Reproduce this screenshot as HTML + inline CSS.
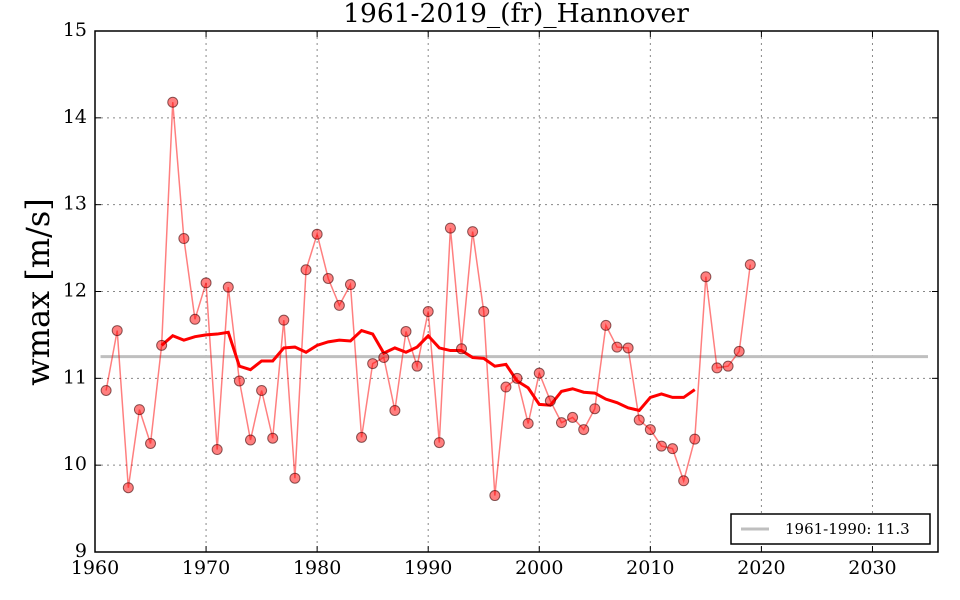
<!DOCTYPE html>
<html><head><meta charset="utf-8"><style>
html,body{margin:0;padding:0;background:#fff;width:960px;height:600px;overflow:hidden}
text{font-family:"DejaVu Serif","Liberation Serif",serif}
</style></head><body>
<svg id="chart" width="960" height="600" xmlns="http://www.w3.org/2000/svg">
<g id="grid"></g>
<g id="ref"></g>
<g id="series"></g>
<g id="axes"></g>
<text x="516" y="22" text-anchor="middle" font-size="26.5">1961-2019_(fr)_Hannover</text>
<text transform="translate(49,292) rotate(-90)" text-anchor="middle" font-size="32">wmax [m/s]</text>
<g>
<rect x="731" y="514" width="199" height="30" fill="#fff" stroke="#000" stroke-width="1.5"/>
<line x1="741" y1="529" x2="769" y2="529" stroke="#bfbfbf" stroke-width="3"/>
<text x="785" y="534" font-size="15">1961-1990: 11.3</text>
</g>
</svg>
<script>
const years=[];for(let y=1961;y<=2019;y++)years.push(y);
const wmax=[10.86,11.55,9.74,10.64,10.25,11.38,14.18,12.61,11.68,12.10,10.18,12.05,10.97,10.29,10.86,10.31,11.67,9.85,12.25,12.66,12.15,11.84,12.08,10.32,11.17,11.24,10.63,11.54,11.14,11.77,10.26,12.73,11.34,12.69,11.77,9.65,10.90,11.00,10.48,11.06,10.74,10.49,10.55,10.41,10.65,11.61,11.36,11.35,10.52,10.41,10.22,10.19,9.82,10.30,12.17,11.12,11.14,11.31,12.31];
const maYears=[];for(let y=1966;y<=2014;y++)maYears.push(y);
const maValues=[11.38,11.49,11.44,11.48,11.50,11.51,11.53,11.14,11.10,11.20,11.20,11.35,11.36,11.30,11.38,11.42,11.44,11.43,11.55,11.51,11.29,11.35,11.30,11.36,11.49,11.35,11.32,11.32,11.24,11.23,11.14,11.16,10.97,10.89,10.70,10.69,10.85,10.88,10.84,10.83,10.76,10.72,10.66,10.63,10.78,10.82,10.78,10.78,10.87];
const refValue=11.25;
const xTicks=[1960,1970,1980,1990,2000,2010,2020,2030];
const yTicks=[9,10,11,12,13,14,15];
const L=95,R=938,T=31,B=552,xMin=1960,xMax=2035.9,yMin=9,yMax=15;
const X=v=>L+(v-xMin)/(xMax-xMin)*(R-L);
const Y=v=>B-(v-yMin)/(yMax-yMin)*(B-T);
const NS="http://www.w3.org/2000/svg";
function mk(tag,attrs,parent){const e=document.createElementNS(NS,tag);for(const k in attrs)e.setAttribute(k,attrs[k]);document.getElementById(parent).appendChild(e);return e;}
xTicks.forEach(t=>{
 const g=mk('line',{x1:X(t),x2:X(t),y1:T,y2:B,stroke:'#888','stroke-dasharray':'2,4','stroke-width':1},'grid');
 
 
 [[B,B-6],[T,T+6]].forEach(p=>{const k=mk('line',{x1:X(t),x2:X(t),y1:p[0],y2:p[1],stroke:'#000'},'axes');
  
  });
 const tx=mk('text',{x:X(t),y:B+22,'text-anchor':'middle','font-size':19},'axes');tx.textContent=t;
 
 
});
yTicks.forEach(t=>{
 const g=mk('line',{x1:L,x2:R,y1:Y(t),y2:Y(t),stroke:'#888','stroke-dasharray':'2,4','stroke-width':1},'grid');
 
 
 [[L,L+6],[R,R-6]].forEach(p=>{const k=mk('line',{x1:p[0],x2:p[1],y1:Y(t),y2:Y(t),stroke:'#000'},'axes');
  
  });
 const tx=mk('text',{x:L-8,y:Y(t)+5,'text-anchor':'end','font-size':19},'axes');tx.textContent=t;
 
 
});
const fr=mk('rect',{x:L,y:T,width:R-L,height:B-T,fill:'none',stroke:'#000','stroke-width':1.5},'axes');


const rl=mk('line',{x1:X(1960.5),x2:X(2035),y1:Y(refValue),y2:Y(refValue),stroke:'#bfbfbf','stroke-width':3},'ref');


const rawLine=mk('polyline',{points:years.map((y,i)=>X(y)+','+Y(wmax[i])).join(' '),fill:'none',stroke:'#ff0000','stroke-opacity':0.5,'stroke-width':1.5},'series');


const ma=mk('polyline',{points:maYears.map((y,i)=>X(y)+','+Y(maValues[i])).join(' '),fill:'none',stroke:'#ff0000','stroke-width':3},'series');


years.forEach((y,i)=>{const c=mk('circle',{cx:X(y),cy:Y(wmax[i]),r:5,fill:'rgba(255,0,0,0.5)',stroke:'rgba(60,0,0,0.6)','stroke-width':1},'series');
 
 });
</script>
</body></html>
